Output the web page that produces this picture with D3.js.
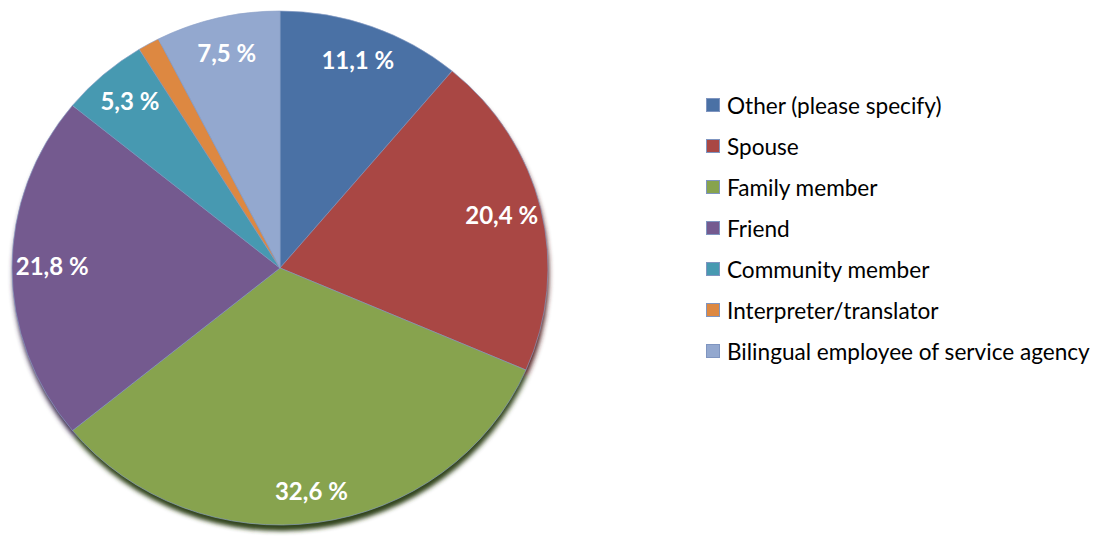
<!DOCTYPE html>
<html>
<head>
<meta charset="utf-8">
<script src="https://cdn.jsdelivr.net/npm/d3@7"></script>
<style>
  html, body { margin: 0; padding: 0; background: #ffffff; }
  svg { display: block; }
</style>
</head>
<body>
<svg id="chart" width="1098" height="538"></svg>
<script>
const categories = ["Other (please specify)", "Spouse", "Family member", "Friend", "Community member", "Interpreter/translator", "Bilingual employee of service agency"];
const values = [11.1, 20.4, 32.6, 21.8, 5.3, 1.3, 7.5];
const colors = ["#4A71A5", "#A94744", "#87A34E", "#745A8F", "#4799B1", "#DD8841", "#93A8CF"];
const shadowColors = ["#243a5c", "#552220", "#33451a", "#3c2f50", "#244f5e", "#704420", "#4b5870"];

const svg = d3.select("#chart");

// pie geometry (slightly elliptical, as in the reference)
const cx = 280, cy = 268, rx = 268, ry = 257;
const R = 100; // unit radius before scaling

const defs = svg.append("defs");
const blur = defs.append("filter").attr("id", "shadowBlur")
  .attr("x", "-10%").attr("y", "-10%").attr("width", "120%").attr("height", "120%");
blur.append("feGaussianBlur").attr("stdDeviation", 0.9);

const pie = d3.pie().sort(null).value(d => d.value);
const data = categories.map((c, i) => ({ name: c, value: values[i], color: colors[i], shadow: shadowColors[i] }));
const arcs = pie(data);
const arc = d3.arc().innerRadius(0).outerRadius(R);
const labelArc = d3.arc().innerRadius(R * 0.85).outerRadius(R * 0.85);

// shadow layer
const gShadow = svg.append("g")
  .attr("transform", `translate(${cx + 1},${cy + 6}) scale(${rx / R},${ry / R})`)
  .attr("filter", "url(#shadowBlur)");
gShadow.selectAll("path").data(arcs).join("path")
  .attr("d", arc)
  .attr("fill", d => d.data.shadow);

// slices
const gPie = svg.append("g")
  .attr("transform", `translate(${cx},${cy}) scale(${rx / R},${ry / R})`);
gPie.selectAll("path").data(arcs).join("path")
  .attr("d", arc)
  .attr("fill", d => d.data.color)
  .attr("stroke", "#8aa0c8")
  .attr("stroke-opacity", 0.7)
  .attr("stroke-width", 0.9)
  .attr("vector-effect", "non-scaling-stroke");

// labels
const fmt = v => d3.format(".1f")(v).replace(".", ",") + " %";
svg.append("g").selectAll("text").data(arcs.filter(d => d.data.value > 2)).join("text")
  .attr("x", d => cx + labelArc.centroid(d)[0] * rx / R)
  .attr("y", d => cy - 3 + labelArc.centroid(d)[1] * ry / R * (labelArc.centroid(d)[1] > 0 ? 1.04 : 1))
  .attr("text-anchor", "middle")
  .attr("dominant-baseline", "central")
  .attr("font-family", "Lato, 'Open Sans', sans-serif")
  .attr("font-weight", "bold")
  .attr("font-size", 24)
  .attr("fill", "#ffffff")
  .text(d => fmt(d.data.value));

// legend
const legendY = d3.scalePoint().domain(categories).range([105, 351]);
const lg = svg.append("g");
const items = lg.selectAll("g").data(data).join("g")
  .attr("transform", d => `translate(706,${legendY(d.name)})`);
items.append("rect")
  .attr("x", 0.5).attr("y", -6.5)
  .attr("width", 13).attr("height", 13)
  .attr("fill", d => d.color)
  .attr("stroke", "#7f95c0")
  .attr("stroke-width", 1);
items.append("text")
  .attr("x", 21)
  .attr("y", 0)
  .attr("dominant-baseline", "central")
  .attr("font-family", "Lato, 'Open Sans', sans-serif")
  .attr("font-size", 22.6)
  .attr("fill", "#000000")
  .text(d => d.name);
</script>
</body>
</html>
